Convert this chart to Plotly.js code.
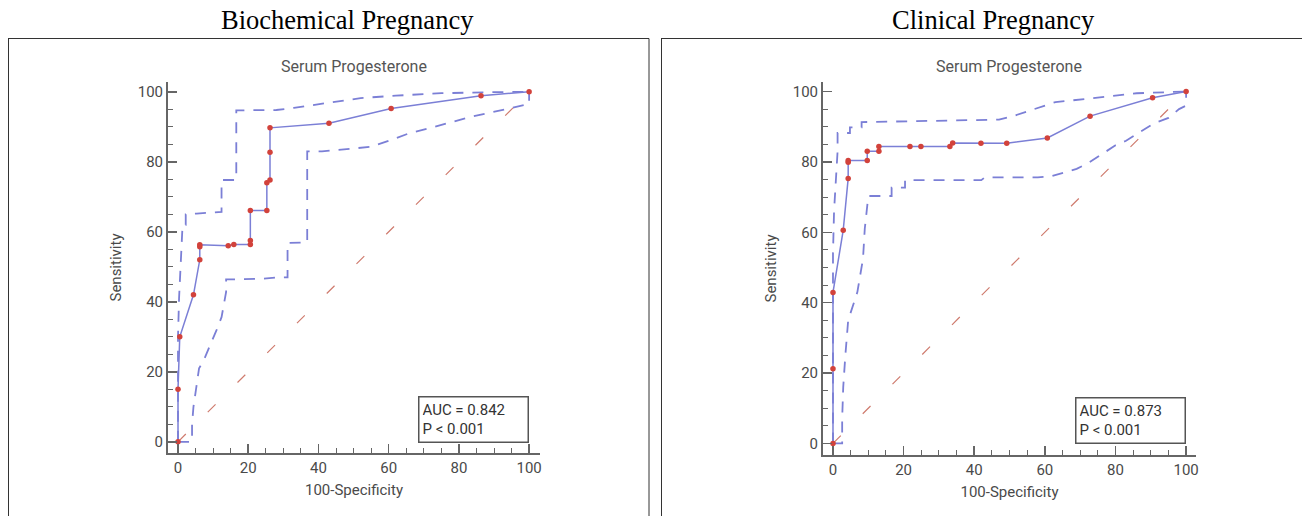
<!DOCTYPE html>
<html>
<head>
<meta charset="utf-8">
<script src="https://cdn.plot.ly/plotly-3.0.1.min.js"></script>
<style>html,body{margin:0;padding:0;background:#fff;}#chart{width:1302px;height:516px;}</style>
</head>
<body>
<div id="chart"></div>
<script>
// ---------- Data ----------
const panelTitles = ["Biochemical Pregnancy", "Clinical Pregnancy"];
const innerTitle = "Serum Progesterone";
const xAxisLabel = "100-Specificity";
const yAxisLabel = "Sensitivity";
const tickValues = [0, 20, 40, 60, 80, 100];

// Biochemical pregnancy ROC
const bioRocX = [0, 0, 0.5, 4.4, 6.2, 6.2, 6.2, 14.3, 15.9, 20.6, 20.6, 20.6, 25.3, 25.3, 26.2, 26.2, 26.2, 43, 60.7, 86.3, 100];
const bioRocY = [0, 15, 30, 42, 52, 55.7, 56.3, 56, 56.4, 56.4, 57.5, 66.1, 66.1, 74, 74.8, 82.7, 89.7, 91, 95.2, 98.9, 100];
const bioUpperX = [0, 0, 0.3, 1, 1.3, 2.2, 2.2, 5.3, 12.4, 12.4, 16.6, 16.6, 28, 33, 42, 52, 62, 75, 90, 100];
const bioUpperY = [0, 30, 41, 55, 62, 62, 65, 65.2, 65.7, 74.8, 74.8, 94.7, 94.8, 95.4, 96.8, 98.2, 98.9, 99.6, 99.9, 100];
const bioLowerX = [0, 4, 4, 4.4, 6, 7.2, 11, 12.4, 13.7, 13.7, 17, 24, 29, 31.2, 31.2, 34.2, 36.8, 36.8, 37.3, 41, 49, 55, 60, 66, 72, 84, 95, 100, 100];
const bioLowerY = [0, 0, 5, 10, 21, 23, 32, 35.6, 42.8, 46.4, 46.4, 46.6, 47, 47, 56.8, 57, 57, 83, 83, 83, 83.7, 84.3, 86, 88.2, 89.7, 93, 95.4, 96.5, 100];
const bioAuc = "AUC = 0.842";
const bioP = "P &lt; 0.001";

// Clinical pregnancy ROC
const clinRocX = [0, 0, 0, 2.9, 4.3, 4.3, 4.3, 9.7, 9.7, 13, 13, 21.8, 24.9, 33.1, 33.9, 41.9, 49.2, 60.7, 72.8, 90.5, 100];
const clinRocY = [0, 21.2, 42.9, 60.6, 75.3, 79.9, 80.4, 80.4, 83, 83, 84.4, 84.4, 84.4, 84.4, 85.4, 85.3, 85.3, 86.8, 93, 98.2, 100];
const clinUpperX = [0, 0, 0.3, 0.8, 1.3, 1.3, 4.8, 4.8, 8.1, 8.1, 28, 47, 51, 54, 63, 67, 77, 86, 100];
const clinUpperY = [0, 54, 66, 75, 83, 88.2, 88.2, 89.8, 89.8, 91.3, 91.6, 92, 93, 94, 97, 97.4, 98.6, 99.5, 100];
const clinLowerX = [0, 2.6, 2.6, 2.9, 3.5, 4.3, 6.9, 8.5, 9, 10, 16.6, 16.6, 20.4, 20.4, 42, 43, 58, 62, 69, 72, 80, 83, 91, 95, 98, 100, 100];
const clinLowerY = [0, 0, 7, 16, 25, 35, 43, 52.5, 61, 70.3, 70.3, 72.7, 72.7, 74.8, 74.8, 75.6, 75.6, 76, 78, 79.5, 84.7, 86, 91, 92.5, 95, 96, 100];
const clinAuc = "AUC = 0.873";
const clinP = "P &lt; 0.001";

const diagX = [0, 100];
const diagY = [0, 100];

// ---------- Styles ----------
const W = 1302, H = 516;
const px = v => v / W;
const py = v => 1 - v / H;
const blue = '#7b7fd6';
const red = '#d2423b';
const diagColor = '#cf7b6e';
const axisColor = '#666';
const font = 'Roboto, Arial, sans-serif';
const textColor = '#4a4a4a';

function panelTraces(xa, ya, rx, ry, ux, uy, lx, ly) {
  return [
    {x: diagX, y: diagY, xaxis: xa, yaxis: ya, mode: 'lines', line: {color: diagColor, width: 1.2, dash: '11px,31px'}, hoverinfo: 'skip'},
    {x: ux, y: uy, xaxis: xa, yaxis: ya, mode: 'lines', line: {color: blue, width: 1.8, dash: '11px,9px'}, hoverinfo: 'skip'},
    {x: lx, y: ly, xaxis: xa, yaxis: ya, mode: 'lines', line: {color: blue, width: 1.8, dash: '11px,9px'}, hoverinfo: 'skip'},
    {x: rx, y: ry, xaxis: xa, yaxis: ya, mode: 'lines+markers', line: {color: blue, width: 1.5}, marker: {color: red, size: 5.5}}
  ];
}

const data = [].concat(
  panelTraces('x', 'y', bioRocX, bioRocY, bioUpperX, bioUpperY, bioLowerX, bioLowerY),
  panelTraces('x2', 'y2', clinRocX, clinRocY, clinUpperX, clinUpperY, clinLowerX, clinLowerY)
);

function axis(domain, range, anchor, titleText, standoff) {
  return {
    domain: domain, range: range, anchor: anchor,
    showline: true, linecolor: axisColor, linewidth: 2,
    ticks: 'inside', ticklen: 9, tickwidth: 1.5, tickcolor: axisColor,
    tickvals: tickValues, ticktext: tickValues.map(String),
    minor: {dtick: 5, tick0: 0, ticks: 'inside', ticklen: 5, tickwidth: 1, tickcolor: axisColor},
    showgrid: false, zeroline: false, fixedrange: true,
    tickfont: {family: font, size: 15, color: textColor},
    title: {text: titleText, font: {family: font, size: 15, color: textColor}, standoff: standoff}
  };
}

const layout = {
  width: W, height: H,
  margin: {l: 0, r: 0, t: 0, b: 0},
  paper_bgcolor: '#fff', plot_bgcolor: '#fff',
  showlegend: false,
  xaxis: axis([px(168), px(540)], [-2.85, 103.1], 'y', xAxisLabel, 8),
  yaxis: axis([py(453), py(82)], [-3.2, 102.8], 'x', yAxisLabel, 12),
  xaxis2: axis([px(823), px(1196)], [-2.83, 102.8], 'y2', xAxisLabel, 8),
  yaxis2: axis([py(455), py(82)], [-3.3, 102.7], 'x2', yAxisLabel, 12),
  shapes: [
    {type: 'line', xref: 'paper', yref: 'paper', x0: px(8), x1: px(649), y0: py(38.5), y1: py(38.5), line: {color: '#333', width: 1}},
    {type: 'line', xref: 'paper', yref: 'paper', x0: px(8.5), x1: px(8.5), y0: py(38.5), y1: py(520), line: {color: '#333', width: 1}},
    {type: 'line', xref: 'paper', yref: 'paper', x0: px(649), x1: px(649), y0: py(38.5), y1: py(520), line: {color: '#333', width: 1}},
    {type: 'line', xref: 'paper', yref: 'paper', x0: px(661), x1: px(1305), y0: py(38.5), y1: py(38.5), line: {color: '#333', width: 1}},
    {type: 'line', xref: 'paper', yref: 'paper', x0: px(661.5), x1: px(661.5), y0: py(38.5), y1: py(520), line: {color: '#333', width: 1}}
  ],
  annotations: [
    {xref: 'paper', yref: 'paper', x: px(347), y: py(20), text: panelTitles[0], showarrow: false, xanchor: 'center', yanchor: 'middle', font: {family: 'Liberation Serif, Times New Roman, serif', size: 26.5, color: '#000'}},
    {xref: 'paper', yref: 'paper', x: px(993), y: py(20), text: panelTitles[1], showarrow: false, xanchor: 'center', yanchor: 'middle', font: {family: 'Liberation Serif, Times New Roman, serif', size: 26.5, color: '#000'}},
    {xref: 'paper', yref: 'paper', x: px(354), y: py(66), text: innerTitle, showarrow: false, xanchor: 'center', yanchor: 'middle', font: {family: font, size: 16, color: '#555'}},
    {xref: 'paper', yref: 'paper', x: px(1009), y: py(66), text: innerTitle, showarrow: false, xanchor: 'center', yanchor: 'middle', font: {family: font, size: 16, color: '#555'}},
    {xref: 'x', yref: 'y', x: 100, y: -0.3, xanchor: 'right', yanchor: 'bottom', showarrow: false, text: bioAuc + '<br>' + bioP, align: 'left', width: 102, height: 38, bordercolor: '#555', borderwidth: 1.5, borderpad: 3, bgcolor: '#fff', font: {family: font, size: 15, color: '#333'}},
    {xref: 'x2', yref: 'y2', x: 100, y: -0.3, xanchor: 'right', yanchor: 'bottom', showarrow: false, text: clinAuc + '<br>' + clinP, align: 'left', width: 102, height: 38, bordercolor: '#555', borderwidth: 1.5, borderpad: 3, bgcolor: '#fff', font: {family: font, size: 15, color: '#333'}}
  ]
};

Plotly.newPlot('chart', data, layout, {staticPlot: true, displayModeBar: false});
</script>
</body>
</html>
